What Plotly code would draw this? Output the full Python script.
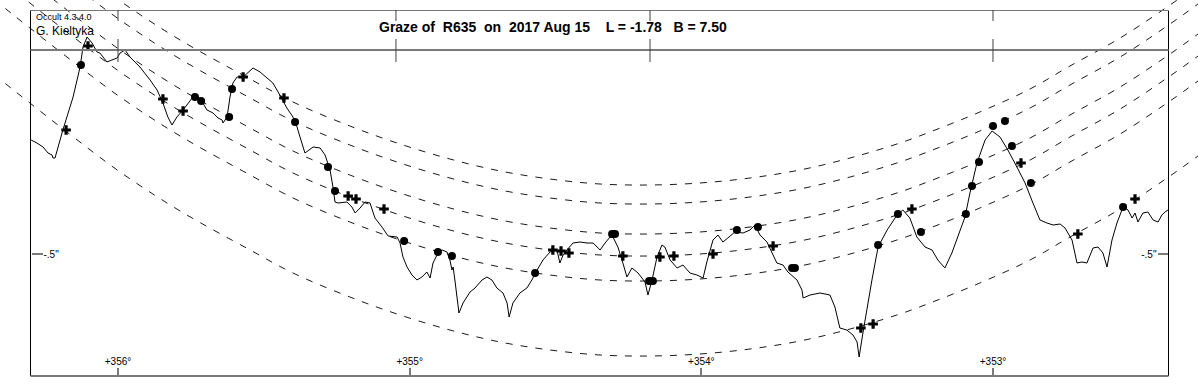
import plotly.graph_objects as go

# ---------------- data (axis angle in degrees, height in arcsec) ----------------
prof_deg = [
    356.298, 356.278, 356.257, 356.240, 356.226, 356.223, 356.216, 356.189, 356.154, 356.130,
    356.120, 356.106, 356.089, 356.072, 356.062, 356.038, 356.021, 356.003, 355.993, 355.976,
    355.959, 355.925, 355.890, 355.866, 355.846, 355.829, 355.815, 355.798, 355.777, 355.743,
    355.719, 355.709, 355.695, 355.674, 355.657, 355.643, 355.640, 355.626, 355.616, 355.606,
    355.592, 355.571, 355.547, 355.537, 355.513, 355.489, 355.469, 355.451, 355.421, 355.400,
    355.386, 355.376, 355.359, 355.331, 355.307, 355.290, 355.273, 355.263, 355.256, 355.246,
    355.215, 355.198, 355.187, 355.170, 355.153, 355.136, 355.119, 355.095, 355.074, 355.043,
    355.033, 355.023, 355.009, 354.992, 354.975, 354.958, 354.941, 354.930, 354.920, 354.903,
    354.889, 354.872, 354.862, 354.855, 354.851, 354.845, 354.838, 354.831, 354.817, 354.793,
    354.776, 354.752, 354.735, 354.718, 354.701, 354.680, 354.666, 354.659, 354.646, 354.622,
    354.598, 354.581, 354.563, 354.543, 354.519, 354.495, 354.485, 354.474, 354.461, 354.440,
    354.416, 354.392, 354.371, 354.347, 354.330, 354.313, 354.303, 354.286, 354.269, 354.255,
    354.238, 354.217, 354.193, 354.183, 354.169, 354.152, 354.135, 354.125, 354.107, 354.083,
    354.063, 354.039, 354.015, 353.994, 353.981, 353.960, 353.943, 353.926, 353.909, 353.885,
    353.857, 353.833, 353.816, 353.799, 353.775, 353.758, 353.741, 353.720, 353.703, 353.672,
    353.655, 353.651, 353.627, 353.593, 353.559, 353.542, 353.525, 353.501, 353.480, 353.466,
    353.459, 353.446, 353.432, 353.415, 353.394, 353.363, 353.329, 353.309, 353.285, 353.261,
    353.233, 353.209, 353.189, 353.165, 353.141, 353.120, 353.096, 353.079, 353.055, 353.027,
    353.003, 352.976, 352.949, 352.918, 352.890, 352.863, 352.839, 352.815, 352.794, 352.770,
    352.753, 352.729, 352.712, 352.695, 352.678, 352.657, 352.640, 352.623, 352.609, 352.592,
    352.575, 352.554, 352.537, 352.523, 352.513, 352.503, 352.486, 352.469, 352.451, 352.434,
    352.421, 352.410, 352.400,
]
prof_h = [
    -0.272, -0.278, -0.286, -0.298, -0.302, -0.308, -0.308, -0.252, -0.186, -0.126,
    -0.086, -0.066, -0.078, -0.096, -0.098, -0.116, -0.112, -0.108, -0.098, -0.092,
    -0.106, -0.126, -0.152, -0.172, -0.198, -0.226, -0.242, -0.226, -0.212, -0.186,
    -0.188, -0.198, -0.212, -0.218, -0.228, -0.232, -0.238, -0.226, -0.186, -0.158,
    -0.146, -0.146, -0.132, -0.128, -0.136, -0.148, -0.158, -0.176, -0.208, -0.226,
    -0.246, -0.266, -0.298, -0.286, -0.288, -0.302, -0.332, -0.366, -0.396, -0.398,
    -0.396, -0.406, -0.418, -0.408, -0.396, -0.398, -0.428, -0.446, -0.464, -0.466,
    -0.478, -0.506, -0.526, -0.542, -0.552, -0.546, -0.536, -0.548, -0.518, -0.498,
    -0.492, -0.496, -0.512, -0.532, -0.526, -0.552, -0.592, -0.618, -0.598, -0.576,
    -0.568, -0.552, -0.546, -0.552, -0.568, -0.578, -0.598, -0.626, -0.598, -0.578,
    -0.568, -0.552, -0.532, -0.512, -0.496, -0.492, -0.518, -0.502, -0.492, -0.478,
    -0.476, -0.478, -0.478, -0.492, -0.478, -0.466, -0.466, -0.486, -0.518, -0.546,
    -0.528, -0.538, -0.556, -0.582, -0.552, -0.506, -0.482, -0.486, -0.512, -0.528,
    -0.522, -0.538, -0.542, -0.548, -0.516, -0.472, -0.462, -0.476, -0.468, -0.456,
    -0.458, -0.452, -0.442, -0.462, -0.476, -0.498, -0.518, -0.522, -0.536, -0.552,
    -0.572, -0.588, -0.582, -0.578, -0.582, -0.606, -0.648, -0.652, -0.662, -0.676,
    -0.706, -0.658, -0.606, -0.552, -0.486, -0.452, -0.422, -0.412, -0.428, -0.466,
    -0.486, -0.492, -0.512, -0.528, -0.498, -0.466, -0.426, -0.378, -0.318, -0.272,
    -0.254, -0.266, -0.292, -0.326, -0.358, -0.398, -0.432, -0.438, -0.442, -0.440,
    -0.448, -0.472, -0.518, -0.516, -0.518, -0.488, -0.486, -0.498, -0.526, -0.472,
    -0.438, -0.406, -0.412, -0.428, -0.418, -0.436, -0.418, -0.416, -0.432, -0.436,
    -0.422, -0.416, -0.412,
]

# disappearance / reappearance events (dots) and other events (crosses)
dot_deg = [356.127, 355.736, 355.715, 355.619, 355.609, 355.393, 355.280, 355.256,
           355.019, 354.903, 354.855, 354.570, 354.306, 354.296, 354.179, 354.166,
           353.878, 353.806, 353.689, 353.679, 353.394, 353.326, 353.247, 353.093,
           353.072, 353.048, 353.000, 352.959, 352.935, 352.870, 352.554]
dot_h = [-0.122, -0.186, -0.194, -0.226, -0.170, -0.236, -0.326, -0.374,
         -0.474, -0.496, -0.504, -0.538, -0.460, -0.460, -0.554, -0.554,
         -0.452, -0.446, -0.528, -0.528, -0.482, -0.420, -0.456, -0.420,
         -0.364, -0.316, -0.244, -0.234, -0.284, -0.358, -0.406]
plus_deg = [356.178, 356.103, 355.846, 355.777, 355.571, 355.431, 355.211, 355.184,
            355.088, 354.509, 354.481, 354.454, 354.269, 354.142, 354.094, 353.960,
            353.754, 353.453, 353.411, 353.278, 352.904, 352.709, 352.513]
plus_h = [-0.252, -0.084, -0.190, -0.214, -0.146, -0.188, -0.384, -0.390,
          -0.410, -0.492, -0.494, -0.498, -0.504, -0.506, -0.504, -0.500,
          -0.484, -0.648, -0.640, -0.410, -0.318, -0.460, -0.390]

# observer path (southernmost chord) and the offsets of the other chords (arcsec)
path_deg = [356.542, 356.405, 356.302, 356.175, 355.993, 355.787, 355.547, 355.400,
            355.205, 355.033, 354.862, 354.690, 354.519, 354.347, 354.176, 354.005,
            353.833, 353.662, 353.490, 353.319, 353.216, 353.045, 352.873, 352.736,
            352.564, 352.403, 352.297, 352.153]
path_h = [-0.080, -0.150, -0.198, -0.256, -0.336, -0.414, -0.492, -0.538,
          -0.586, -0.622, -0.652, -0.676, -0.692, -0.702, -0.704, -0.700,
          -0.690, -0.674, -0.650, -0.620, -0.598, -0.558, -0.512, -0.466,
          -0.410, -0.348, -0.304, -0.242]
path_offsets = [0.0, 0.150, 0.200, 0.244, 0.304, 0.342]

x_tickvals = [356, 355, 354, 353]
x_ticktext = ["+356°", "+355°", "+354°", "+353°"]
y_tickvals = [-0.5]
y_ticktext = ['-.5"']
top_marks = [356.0, 355.047, 354.176, 353.0]

title_text = ("Graze of\u00a0 R635\u00a0 on\u00a0 2017 Aug 15\u00a0\u00a0\u00a0 "
              "L = -1.78\u00a0\u00a0 B = 7.50")

# ---------------- layout constants ----------------
W, H = 1198, 385
X_RANGE = [356.4046, 352.2971]
Y_RANGE = [-0.762, 0.008]
FONT = "Liberation Sans, Arial, sans-serif"
GRAY = "#7a7a7a"


def px(x):
    return x / W


def py(y):
    return 1 - y / H


fig = go.Figure()

for off in path_offsets:
    fig.add_trace(go.Scatter(
        x=path_deg, y=[h + off for h in path_h], mode="lines",
        line=dict(color="#1a1a1a", width=1, dash="7px,8px", shape="spline"),
        hoverinfo="skip", showlegend=False))

fig.add_trace(go.Scatter(
    x=prof_deg, y=prof_h, mode="lines",
    line=dict(color="black", width=1), hoverinfo="skip", showlegend=False))

fig.add_trace(go.Scatter(
    x=dot_deg, y=dot_h, mode="markers",
    marker=dict(symbol="circle", size=8, color="black", line=dict(width=0)),
    hoverinfo="skip", showlegend=False))

fig.add_trace(go.Scatter(
    x=plus_deg, y=plus_h, mode="markers",
    marker=dict(symbol="cross", size=8, color="black", line=dict(width=0)),
    hoverinfo="skip", showlegend=False))

# invisible trace to keep the right-hand axis alive
fig.add_trace(go.Scatter(x=[X_RANGE[0]], y=[Y_RANGE[0]], yaxis="y2", mode="markers",
                         marker=dict(opacity=0), hoverinfo="skip", showlegend=False))

shapes = []
L, R, T, S, B = 30.5, 1168.5, 10.5, 50, 376
# frame
shapes.append(dict(type="line", xref="paper", yref="paper", x0=px(L), x1=px(L), y0=py(T), y1=py(B),
                   line=dict(color="black", width=1)))
shapes.append(dict(type="line", xref="paper", yref="paper", x0=px(R), x1=px(R), y0=py(T), y1=py(B),
                   line=dict(color="black", width=1)))
shapes.append(dict(type="line", xref="paper", yref="paper", x0=px(L), x1=px(R), y0=py(T), y1=py(T),
                   line=dict(color=GRAY, width=1)))
shapes.append(dict(type="line", xref="paper", yref="paper", x0=px(L), x1=px(R), y0=py(S), y1=py(S),
                   line=dict(color=GRAY, width=2)))
shapes.append(dict(type="line", xref="paper", yref="paper", x0=px(L), x1=px(R), y0=py(B), y1=py(B),
                   line=dict(color=GRAY, width=2)))
for m in top_marks:
    shapes.append(dict(type="line", xref="x", yref="paper", x0=m, x1=m, y0=py(10), y1=py(21),
                       line=dict(color="#404040", width=1)))
    shapes.append(dict(type="line", xref="x", yref="paper", x0=m, x1=m, y0=py(39), y1=py(62),
                       line=dict(color="#404040", width=1)))

annotations = [
    dict(text=title_text, xref="paper", yref="paper", x=px(553), y=py(27.5),
         xanchor="center", yanchor="middle", showarrow=False,
         font=dict(family=FONT, size=14, color="black", weight="bold")),
    dict(text="Occult 4.3.4.0", xref="paper", yref="paper", x=px(34), y=py(17),
         xanchor="left", yanchor="middle", showarrow=False,
         font=dict(family=FONT, size=9, color="black")),
    dict(text="G. Kieltyka", xref="paper", yref="paper", x=px(34), y=py(31.5),
         xanchor="left", yanchor="middle", showarrow=False,
         font=dict(family=FONT, size=12, color="black")),
]

tickfont = dict(family=FONT, size=10, color="black")

fig.update_layout(
    width=W, height=H, autosize=False,
    margin=dict(l=0, r=0, t=0, b=0, pad=0),
    paper_bgcolor="white", plot_bgcolor="white",
    showlegend=False,
    shapes=shapes, annotations=annotations,
    xaxis=dict(range=X_RANGE, showgrid=False, zeroline=False, showline=False,
               tickmode="array", tickvals=x_tickvals, ticktext=x_ticktext,
               ticks="inside", ticklen=8, tickwidth=2, tickcolor=GRAY,
               ticklabelposition="inside", tickfont=tickfont,
               anchor="free", position=1 - B / H, automargin=False, fixedrange=True),
    yaxis=dict(range=Y_RANGE, showgrid=False, zeroline=False, showline=False,
               tickmode="array", tickvals=y_tickvals, ticktext=y_ticktext,
               ticks="inside", ticklen=11, tickwidth=2, tickcolor=GRAY,
               ticklabelposition="inside", tickfont=tickfont,
               anchor="free", position=px(L), automargin=False, fixedrange=True),
    yaxis2=dict(range=Y_RANGE, overlaying="y", side="right", showgrid=False,
                zeroline=False, showline=False,
                tickmode="array", tickvals=y_tickvals, ticktext=y_ticktext,
                ticks="inside", ticklen=11, tickwidth=2, tickcolor=GRAY,
                ticklabelposition="inside", tickfont=tickfont,
                anchor="free", position=px(R), automargin=False, fixedrange=True),
)

fig.write_html("out.html", config={"displayModeBar": False, "staticPlot": True},
               post_script="document.body.style.margin='0px';")
